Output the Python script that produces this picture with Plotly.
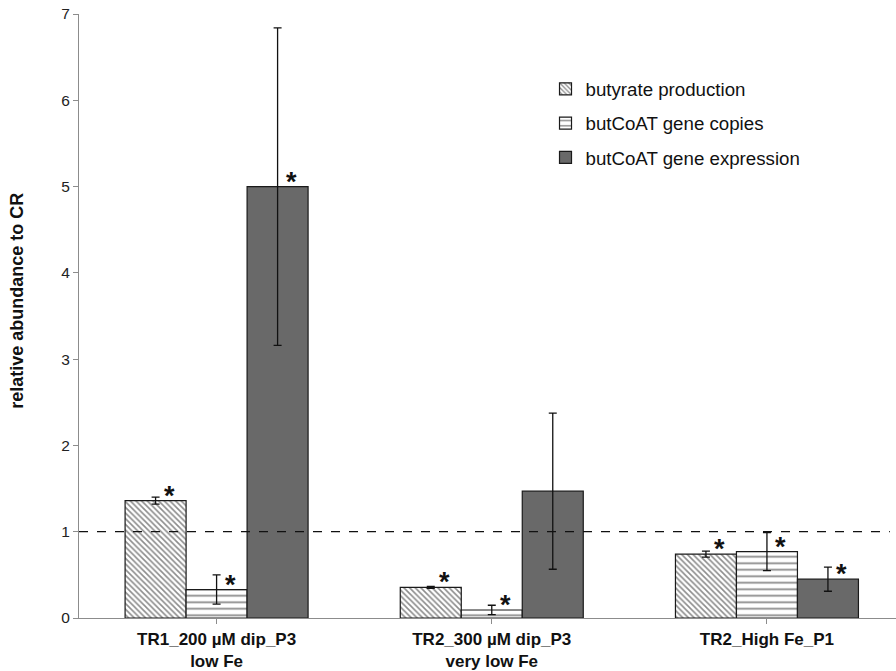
import plotly.graph_objects as go

categories = ["TR1_200 µM dip_P3<br>low Fe", "TR2_300 µM dip_P3<br>very low Fe", "TR2_High Fe_P1"]
series_names = ["butyrate production", "butCoAT gene copies", "butCoAT gene expression"]
butyrate = [1.36, 0.355, 0.74]
butyrate_err = [0.04, 0.012, 0.035]
copies = [0.33, 0.093, 0.77]
copies_err = [0.17, 0.055, 0.22]
expression = [5.0, 1.47, 0.45]
expression_err = [1.84, 0.905, 0.14]
significant = [[True, True, True], [True, True, False], [True, True, True]]  # [category][series]
y_ticks = [0, 1, 2, 3, 4, 5, 6, 7]
reference_level = 1
y_title = "relative abundance to CR"

values = [butyrate, copies, expression]
errors = [butyrate_err, copies_err, expression_err]
patterns = [dict(shape="\\", fgcolor="#1a1a1a", bgcolor="white", size=4, solidity=0.4),
            dict(shape="-", fgcolor="#1a1a1a", bgcolor="white", size=6.5, solidity=0.28),
            None]
fills = ["white", "white", "#696969"]

fig = go.Figure()
for i in range(3):
    kw = dict(
        x=list(range(len(categories))), y=values[i], name=series_names[i],
        legendgroup=f"g{i}",
        marker=dict(color=fills[i], line=dict(color="#1a1a1a", width=1.2)),
        error_y=dict(type="data", array=errors[i], color="#111111", thickness=1.3, width=4),
    )
    if patterns[i] is not None:
        kw["marker"]["pattern"] = patterns[i]
    fig.add_trace(go.Bar(**kw))

bar_w = (1 - 0.335) / 3
for c in range(len(categories)):
    for s in range(3):
        if significant[c][s]:
            fig.add_annotation(x=c + (s - 1) * bar_w, y=values[s][c], text="<b>*</b>",
                               showarrow=False, xshift=14, yshift=5,
                               font=dict(size=27, color="#111111", family="Liberation Sans, Arial"))

fig.add_annotation(xref="paper", yref="paper", x=-0.076, y=0.525, text=f"<b>{y_title}</b>",
                   textangle=-90, showarrow=False, xanchor="center", yanchor="middle",
                   font=dict(size=18, color="#111111"))

fig.add_shape(type="line", xref="paper", yref="y", x0=0, x1=0.9925, y0=reference_level, y1=reference_level,
              line=dict(color="#111111", width=1.2, dash="dash"))

fig.update_layout(
    width=896, height=671,
    margin=dict(l=79, r=0, t=14, b=53),
    plot_bgcolor="white", paper_bgcolor="white",
    barmode="group", bargap=0.335, bargroupgap=0,
    font=dict(family="Liberation Sans, Arial", color="#111111"),
    showlegend=True,
    legend=dict(x=0.571, y=0.907, xanchor="left", yanchor="top", bgcolor="rgba(0,0,0,0)",
                font=dict(size=18.7, color="#111111"), tracegroupgap=7, itemwidth=30),
    xaxis=dict(range=[-0.5, 2.469], tickmode="array", tickvals=list(range(len(categories))),
               ticktext=[f"<b>{c}</b>" for c in categories],
               ticks="outside", tickson="boundaries", ticklen=5, tickcolor="#8c8c8c",
               showline=True, linecolor="#8c8c8c", linewidth=1.3,
               tickfont=dict(size=17, color="#111111"), showgrid=False),
    yaxis=dict(range=[0, 7], tickvals=y_ticks, ticks="outside", ticklen=5, tickcolor="#8c8c8c",
               showline=True, linecolor="#8c8c8c", linewidth=1.3, showgrid=False, zeroline=False,
               tickfont=dict(size=15.5, color="#222222")),
)

fig.write_html("out.html", config={"displayModeBar": False},
               post_script="document.body.style.margin='0';document.body.style.overflow='hidden';")
